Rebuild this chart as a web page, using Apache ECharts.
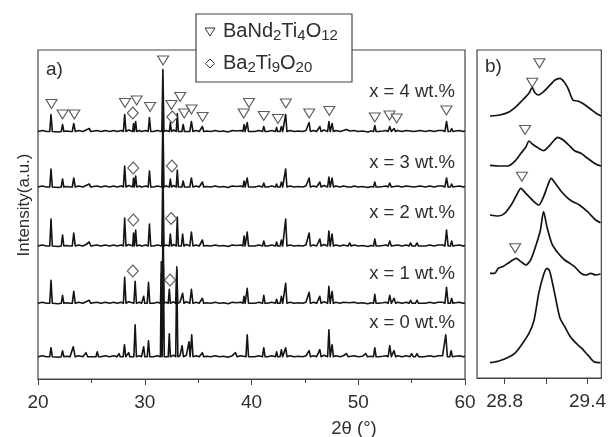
<!DOCTYPE html>
<html><head><meta charset="utf-8">
<script src="https://cdn.jsdelivr.net/npm/echarts@6/dist/echarts.min.js"></script>
<style>html,body{margin:0;padding:0;background:#fff}#c{width:609px;height:437px}</style>
</head><body><div id="c"></div>
<script>
// ---------- data ----------
const sampleLabels = ['x = 0 wt.%', 'x = 1 wt.%', 'x = 2 wt.%', 'x = 3 wt.%', 'x = 4 wt.%'];
const xTicksA = [20, 30, 40, 50, 60];
const xTicksB = [28.8, 29.1, 29.4];
const xLabelsB = [28.8, 29.4];

// stacking offsets (intensity units) of each pattern
const offsetsA = [22.3, 75.7, 133, 192, 247.5];
const offsetsB = [15.3, 104.7, 163, 212, 262];

// peaks: [2theta, height, half-width]
const peaks0 = [[21.22,9,.12],[22.3,6,.12],[23.3,10,.18],[24.5,4,.15],[25.55,5,.12],[27.6,3,.1],[28.1,12,.12],[28.5,4,.1],[29.1,32,.12],[29.9,10,.1],[30.35,16,.12],[31.55,95,.08],[31.75,90,.08],[32.3,23,.1],[33.0,90,.1],[33.5,11,.12],[34.15,15,.1],[34.4,22,.12],[35.4,4,.12],[38.5,4,.15],[39.6,22,.12],[41.15,9,.12],[42.35,5,.1],[42.8,7,.12],[43.2,9,.12],[45.4,6,.12],[46.4,7,.12],[47.25,27,.12],[47.55,12,.12],[48.9,3,.15],[50.7,3,.15],[51.55,9,.12],[52.95,11,.15],[53.35,6,.15],[55.0,3,.15],[55.5,3,.15],[56.0,2,.15],[58.2,22,.15],[58.7,6,.12]];
const peaks1 = [[21.22,23,.12],[22.3,8,.12],[23.35,12,.14],[24.8,3,.15],[28.12,26,.12],[29.1,22,.12],[29.9,7,.1],[30.35,21,.12],[31.55,30,.08],[31.72,85,.08],[32.3,14,.1],[33.0,33,.1],[33.55,10,.12],[34.37,14,.15],[35.4,5,.12],[39.3,7,.1],[39.6,15,.12],[41.15,8,.12],[42.35,4,.1],[42.8,7,.12],[43.2,20,.12],[45.4,11,.12],[46.4,7,.12],[47.25,17,.12],[47.55,12,.12],[51.55,9,.12],[52.95,8,.15],[53.35,5,.15],[54.9,3,.15],[55.5,3,.15],[58.27,16,.15],[58.75,5,.12]];
const peaks2 = [[21.22,27,.12],[22.3,11,.12],[23.35,13,.14],[24.8,4,.15],[28.12,28,.12],[28.95,13,.08],[29.15,16,.1],[30.44,22,.12],[31.7,80,.1],[32.4,12,.1],[33.05,29,.1],[33.55,12,.12],[34.37,14,.15],[35.4,6,.12],[39.3,10,.1],[39.6,14,.12],[41.15,5,.12],[42.35,4,.1],[42.8,6,.12],[43.2,27,.12],[45.4,13,.12],[46.4,7,.12],[47.25,15,.12],[47.55,12,.12],[49.2,3,.15],[51.55,7,.12],[52.95,5,.15],[54.9,3,.15],[55.5,3,.15],[58.27,16,.15],[58.75,5,.12]];
const peaks3 = [[21.22,18,.12],[22.3,8,.12],[23.35,9,.14],[24.8,3,.15],[28.12,21,.12],[28.95,9,.08],[29.15,11,.1],[30.44,16,.12],[31.7,70,.1],[32.4,8,.1],[33.05,17,.1],[33.6,6,.12],[34.37,9,.15],[35.4,5,.12],[39.3,6,.1],[39.6,9,.12],[41.15,4,.12],[42.35,3,.1],[42.8,5,.12],[43.2,18,.12],[45.4,9,.12],[46.4,5,.12],[47.25,10,.12],[47.55,9,.12],[49.2,2,.15],[51.55,5,.12],[52.95,4,.15],[58.27,9,.15],[58.75,3,.12]];
const peaks4 = [[21.22,17,.12],[22.3,7,.12],[23.35,8,.14],[24.8,3,.15],[28.12,17,.12],[28.95,8,.08],[29.15,10,.1],[30.44,14,.12],[31.7,62,.1],[32.4,9,.1],[33.05,18,.1],[33.6,7,.12],[34.37,10,.15],[35.4,5,.12],[39.3,7,.1],[39.6,9,.12],[41.15,5,.12],[42.35,4,.1],[42.8,5,.12],[43.2,17,.12],[45.4,9,.12],[46.4,5,.12],[47.25,10,.12],[47.55,8,.12],[48.9,2,.15],[51.55,6,.12],[52.95,5,.15],[53.35,3,.15],[58.27,10,.15],[58.75,3,.12]];

// background wiggles between peaks: [2theta, value]
const background = [[20,0],[20.4,1],[20.8,0],[21.5,0.5],[21.9,-0.5],[22.7,0.5],[23.0,0],[23.8,1],[24.2,0],[24.5,1.5],[25.1,0],[25.5,1],[25.9,0],[26.3,1],[26.7,0],[27.1,1],[27.4,0],[27.8,1],[28.5,1.5],[29.5,1],[29.7,0],[30.1,1],[30.8,0],[31.2,1],[32.0,1],[32.7,1.5],[33.3,1],[33.9,1.5],[34.8,1],[35.1,0],[35.8,0.5],[36.2,0],[36.6,1],[37.0,0],[37.4,0.5],[37.8,-0.5],[38.2,1],[38.6,0.5],[39.0,1],[39.9,1],[40.3,0],[40.7,1],[41.5,0],[41.9,1],[42.6,1],[43.6,1],[44.0,0],[44.4,0.5],[44.8,0],[45.1,1],[45.8,1],[46.1,0],[46.8,1.5],[47.9,1],[48.3,0],[48.6,1],[49.2,0.5],[49.6,1],[50.0,0],[50.4,0.5],[50.9,-0.5],[51.2,0.5],[51.9,0],[52.3,0.5],[52.6,1],[53.7,1],[54.1,0],[54.5,1],[55.2,0],[55.8,1],[56.3,0],[56.7,1],[57.1,0],[57.5,1],[57.9,1],[58.5,1.5],[59.1,0.5],[59.5,1],[59.8,0],[60,0.5]];

// panel b (zoom 28.6-29.5): [2theta, intensity above baseline]
const zoomB0 = [[28.694,0],[28.765,2],[28.835,6],[28.871,9],[28.918,17],[28.976,29.3],[29.012,42],[29.047,69.3],[29.082,88],[29.106,94.3],[29.125,92],[29.146,80],[29.17,64],[29.2,45],[29.235,36],[29.271,27],[29.306,21],[29.353,15],[29.4,8],[29.447,1],[29.494,0]];
const zoomB1 = [[28.694,0],[28.729,0],[28.753,5],[28.788,6.7],[28.824,10],[28.859,13.3],[28.883,15],[28.918,11.7],[28.953,8.3],[28.988,13.3],[29.024,26.7],[29.059,43.3],[29.082,61.7],[29.106,46.7],[29.141,30],[29.188,20],[29.235,13.3],[29.271,10],[29.306,6.7],[29.353,0],[29.388,-1.7],[29.423,0],[29.459,-1.7],[29.494,-0.7]];
const zoomB2 = [[28.694,0],[28.753,-1],[28.8,1.7],[28.847,10],[28.883,19],[28.918,26.7],[28.953,21.7],[29.0,15],[29.047,10],[29.082,18.3],[29.113,30],[29.137,36.7],[29.17,31],[29.212,23.3],[29.259,16.7],[29.294,13.3],[29.341,10],[29.4,3.3],[29.459,-5],[29.494,-7.7]];
const zoomB3 = [[28.694,0.7],[28.765,0],[28.824,0],[28.871,4.3],[28.918,12.7],[28.953,18.7],[28.976,25],[29.0,22],[29.035,18.7],[29.082,15.3],[29.118,19.3],[29.153,25],[29.184,28.7],[29.224,26],[29.264,21],[29.306,15.3],[29.353,12.7],[29.4,7.7],[29.459,2],[29.497,0]];
const zoomB4 = [[28.694,0],[28.765,1],[28.835,4.3],[28.883,9.3],[28.93,16],[28.976,22.7],[29.0,28.3],[29.019,23.3],[29.047,21],[29.082,24.3],[29.118,29.3],[29.165,36],[29.2,37.7],[29.23,34.3],[29.259,27.7],[29.294,16],[29.329,15],[29.372,12],[29.423,6.7],[29.47,2],[29.499,0]];

// phase markers (BaNd2Ti4O12 = triangle, Ba2Ti9O20 = diamond)
const triA = [[21.27,275],[22.3,264.5],[23.4,264.5],[28.15,276],[29.24,278.5],[30.5,272],[31.72,318.5],[32.5,274],[33.32,282],[33.7,265.5],[34.38,269.5],[35.42,262],[39.27,265.5],[39.77,276],[41.15,263],[42.48,260],[43.22,275.5],[45.41,265.5],[47.29,268],[51.55,261.5],[52.93,263.5],[53.6,260.5],[58.26,268.5]];
const diaA = [[28.88,266],[32.58,262],[28.92,211],[32.54,213],[28.93,159],[32.47,160.5],[28.88,108],[32.37,99]];
const triB = [[29.0,295.3],[29.052,314.7],[28.948,248],[28.925,201.3],[28.876,129.7]];

// ---------- build ----------
const peaksA = [peaks0, peaks1, peaks2, peaks3, peaks4];
const zoomsB = [zoomB0, zoomB1, zoomB2, zoomB3, zoomB4];
function buildTrace(peaks, offset) {
  const pts = [];
  background.forEach(([x, v]) => {
    if (!peaks.some(([p, h, w]) => Math.abs(x - p) <= w + 0.04)) pts.push([x, v + offset]);
  });
  peaks.forEach(([p, h, w]) => { pts.push([p - w, offset], [p, h + offset], [p + w, offset]); });
  pts.sort((a, b) => a[0] - b[0]);
  return pts;
}
const LINE = '#141414', AX = '#444', TXT = '#2e2e2e';
const series = [];
peaksA.forEach((pk, i) => series.push({
  type: 'line', xAxisIndex: 0, yAxisIndex: 0, data: buildTrace(pk, offsetsA[i]),
  showSymbol: false, lineStyle: { color: LINE, width: 1.6, join: 'round' }, silent: true, z: 2
}));
zoomsB.forEach((zb, i) => series.push({
  type: 'line', xAxisIndex: 1, yAxisIndex: 1, data: zb.map(([x, v]) => [x, v + offsetsB[i]]),
  showSymbol: false, smooth: 0.25, lineStyle: { color: LINE, width: 1.7 }, silent: true, z: 2
}));
const triStyle = { color: '#fff', borderColor: '#333', borderWidth: 1.1 };
series.push({ type: 'scatter', xAxisIndex: 0, yAxisIndex: 0, data: triA, symbol: 'triangle', symbolRotate: 180, symbolSize: [11, 9], itemStyle: triStyle, z: 5, silent: true });
series.push({ type: 'scatter', xAxisIndex: 0, yAxisIndex: 0, data: diaA, symbol: 'diamond', symbolSize: [11, 12], itemStyle: triStyle, z: 5, silent: true });
series.push({ type: 'scatter', xAxisIndex: 1, yAxisIndex: 1, data: triB, symbol: 'triangle', symbolRotate: 180, symbolSize: [11, 9], itemStyle: triStyle, z: 5, silent: true });

const labelY = [323, 274, 213, 163, 92];
const graphics = [];
sampleLabels.forEach((t, i) => graphics.push({ type: 'text', x: 455, y: labelY[i], style: { text: t, fontSize: 18.5, fontFamily: 'Liberation Sans', fill: TXT, align: 'right', verticalAlign: 'middle' } }));
graphics.push({ type: 'text', x: 46, y: 70, style: { text: 'a)', fontSize: 19, fontFamily: 'Liberation Sans', fill: TXT, verticalAlign: 'middle' } });
graphics.push({ type: 'text', x: 485, y: 67, style: { text: 'b)', fontSize: 19, fontFamily: 'Liberation Sans', fill: TXT, verticalAlign: 'middle' } });
graphics.push({ type: 'text', x: 24, y: 205, rotation: Math.PI / 2, style: { text: 'Intensity(a.u.)', fontSize: 17, fontFamily: 'Liberation Sans', fill: TXT, align: 'center', verticalAlign: 'middle' } });
graphics.push({ type: 'text', x: 354, y: 429, style: { text: '2θ (°)', fontSize: 18.5, fontFamily: 'Liberation Sans', fill: TXT, align: 'center', verticalAlign: 'middle' } });
// legend box
graphics.push({ type: 'rect', shape: { x: 196, y: 14, width: 156, height: 68 }, style: { fill: '#fff', stroke: AX, lineWidth: 1.2 }, z: 10 });
graphics.push({ type: 'polygon', shape: { points: [[205, 28], [215, 28], [210, 36]] }, style: { fill: '#fff', stroke: '#333', lineWidth: 1 }, z: 11 });
graphics.push({ type: 'polygon', shape: { points: [[210, 59], [214.5, 63.5], [210, 68], [205.5, 63.5]] }, style: { fill: '#fff', stroke: '#333', lineWidth: 1 }, z: 11 });
const rich = {
  m: { fontSize: 20, lineHeight: 24, fontFamily: 'Liberation Sans', fill: TXT },
  s: { fontSize: 15, lineHeight: 10, fontFamily: 'Liberation Sans', fill: TXT, verticalAlign: 'bottom' }
};
graphics.push({ type: 'text', x: 223, y: 31.5, z: 11, style: { text: '{m|BaNd}{s|2}{m|Ti}{s|4}{m|O}{s|12}', rich, verticalAlign: 'middle' } });
graphics.push({ type: 'text', x: 223, y: 63, z: 11, style: { text: '{m|Ba}{s|2}{m|Ti}{s|9}{m|O}{s|20}', rich, verticalAlign: 'middle' } });

const axLabel = { fontSize: 19, fontFamily: 'Liberation Sans', color: TXT, margin: 14 };
const option = {
  animation: false,
  backgroundColor: '#fff',
  grid: [
    { left: 38, top: 50, width: 427, height: 329, show: true, borderColor: AX, borderWidth: 1.2, backgroundColor: 'transparent' },
    { left: 477, top: 50, width: 127, height: 328, show: true, borderColor: AX, borderWidth: 1.2, backgroundColor: 'transparent' }
  ],
  xAxis: [
    { type: 'value', gridIndex: 0, min: xTicksA[0], max: xTicksA[xTicksA.length - 1], interval: 10,
      axisLine: { lineStyle: { color: AX, width: 1.2 } }, axisTick: { length: 6, lineStyle: { color: AX } },
      minorTick: { show: true, splitNumber: 2, length: 4, lineStyle: { color: AX } },
      splitLine: { show: false }, minorSplitLine: { show: false }, axisLabel: axLabel },
    { type: 'value', gridIndex: 1, min: 28.6, max: 29.5,
      axisLine: { lineStyle: { color: AX, width: 1.2 } },
      axisTick: { length: 6, lineStyle: { color: AX }, customValues: xTicksB },
      splitLine: { show: false },
      axisLabel: Object.assign({}, axLabel, { customValues: xLabelsB, formatter: v => v.toFixed(1) }) }
  ],
  yAxis: [
    { type: 'value', gridIndex: 0, min: 0, max: 329, axisLine: { show: false }, axisTick: { show: false }, axisLabel: { show: false }, splitLine: { show: false } },
    { type: 'value', gridIndex: 1, min: 0, max: 328, axisLine: { show: false }, axisTick: { show: false }, axisLabel: { show: false }, splitLine: { show: false } }
  ],
  series,
  graphic: graphics
};
const chart = echarts.init(document.getElementById('c'), null, { renderer: 'canvas' });
chart.setOption(option);
</script></body></html>
